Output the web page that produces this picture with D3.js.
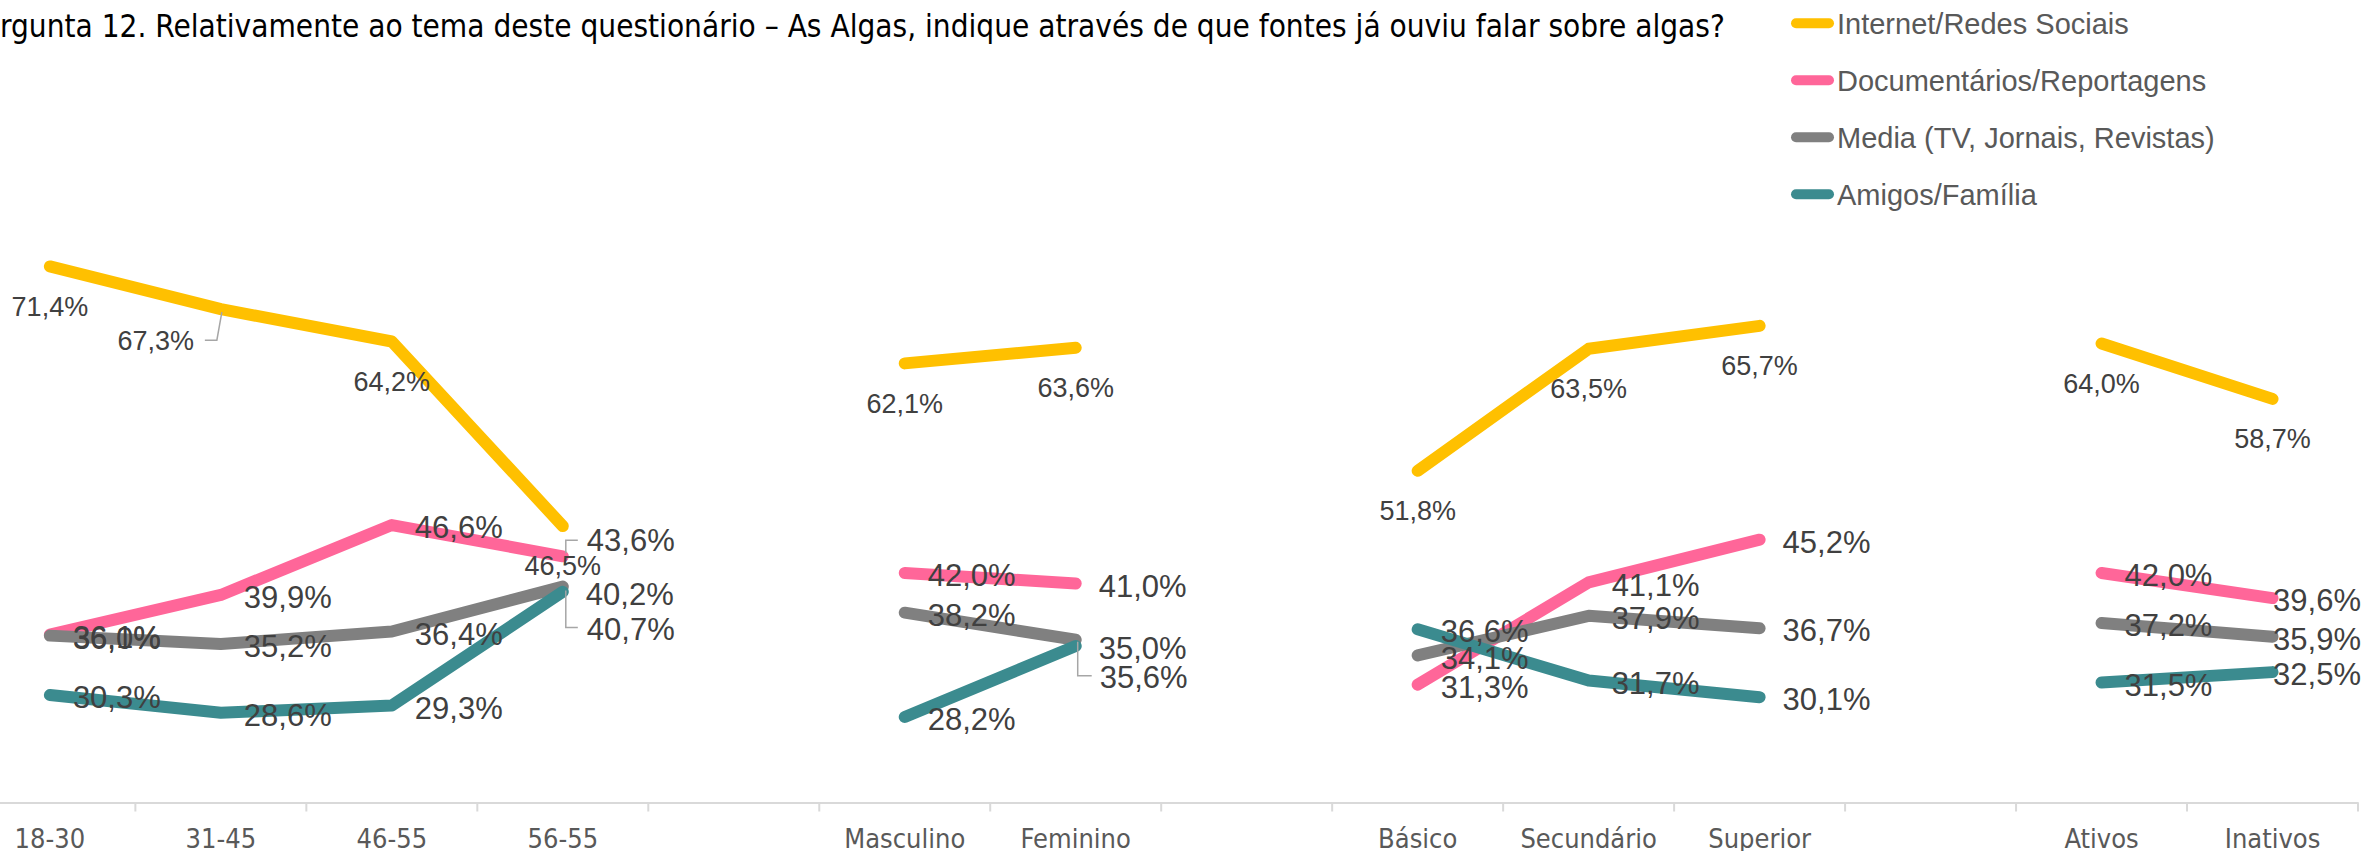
<!DOCTYPE html>
<html><head><meta charset="utf-8">
<script src="https://cdn.jsdelivr.net/npm/d3@7"></script>
<style>html,body{margin:0;padding:0;background:#fff;overflow:hidden}</style>
</head><body><svg id="c" width="2366" height="851"></svg>
<script>
// ---- data ----
const categories = ["18-30","31-45","46-55","56-55","","Masculino","Feminino","","Básico","Secundário","Superior","","Ativos","Inativos"];
const internet = [71.4,67.3,64.2,46.5,null,62.1,63.6,null,51.8,63.5,65.7,null,64.0,58.7];
const documentarios = [36.1,39.9,46.6,43.6,null,42.0,41.0,null,31.3,41.1,45.2,null,42.0,39.6];
const media = [36.0,35.2,36.4,40.7,null,38.2,35.6,null,34.1,37.9,36.7,null,37.2,35.9];
const amigos = [30.3,28.6,29.3,40.2,null,28.2,35.0,null,36.6,31.7,30.1,null,31.5,32.5];
const seriesNames = ["Internet/Redes Sociais","Documentários/Reportagens","Media (TV, Jornais, Revistas)","Amigos/Família"];
const titleText = "Pergunta 12. Relativamente ao tema deste questionário – As Algas, indique através de que fontes já ouviu falar sobre algas?";

// ---- styles / layout ----
const seriesValues = [internet, documentarios, media, amigos];
const seriesColors = ["#FFC000","#FF6699","#808080","#3B8B8F"];
const labelPlacement = ["below","right","right","right"];
const labelSizes = [27,31,31,31];
// manually moved labels: centre offset from point, leader polyline relative to point
const labelOverrides = {
  "0,1": {cx:-65, cy:31.5, leader:[[-16,31],[-4,31],[1,3]]},
  "1,3": {cx:68, cy:-16, leader:[[15,-16],[3,-16],[3,-3]]},
  "2,3": {cx:68, cy:42, leader:[[15,41],[3,41],[3,4]]},
  "2,6": {cx:68, cy:37, leader:[[16,36],[2,36],[2,2]]}
};
const W=2366, H=851;
const narrow = "'Liberation Sans Narrow','Arial Narrow','DejaVu Sans Condensed',sans-serif";
const arial = "'Liberation Sans',Arial,sans-serif";

const svg = d3.select("#c");
svg.append("rect").attr("width",W).attr("height",H).attr("fill","#fff");

const x = d3.scaleBand().domain(d3.range(categories.length)).range([-35.6,2358]).padding(0);
const y = d3.scaleLinear().domain([20,80]).range([802.5,176.7]);
const cx = i => x(i) + x.bandwidth()/2;

// title
const tmp = svg.append("text").attr("font-family",narrow).attr("font-size",28).text(titleText.slice(2));
const fs = 28*1725/tmp.node().getComputedTextLength();
tmp.remove();
const tmp2 = svg.append("text").attr("font-family",narrow).attr("font-size",fs).text("Pe");
const wPe = tmp2.node().getComputedTextLength();
tmp2.remove();
svg.append("text").attr("x",-wPe).attr("y",36.7).attr("font-family",narrow).attr("font-size",fs)
  .attr("fill","#000").text(titleText);

// axis
const axisG = svg.append("g").attr("transform",`translate(0,${y(20)})`)
  .call(d3.axisBottom(x).tickSize(0).tickPadding(26).tickFormat(i=>categories[i]));
axisG.select(".domain").attr("stroke","#D9D9D9").attr("stroke-width",2);
axisG.selectAll(".tick text").attr("font-family",narrow).attr("font-size",27).attr("fill","#595959");
axisG.selectAll("line.bound").data(d3.range(categories.length+1)).join("line")
  .attr("class","bound")
  .attr("x1",i=> i===0 ? x(0) : x(i-1)+x.bandwidth()).attr("x2",i=> i===0 ? x(0) : x(i-1)+x.bandwidth())
  .attr("y1",0).attr("y2",9).attr("stroke","#D9D9D9").attr("stroke-width",2);

// lines
const line = d3.line().defined(d=>d!=null).x((d,i)=>cx(i)).y(d=>y(d));
seriesValues.forEach((vals,s)=>{
  svg.append("path").datum(vals).attr("d",line).attr("fill","none")
    .attr("stroke",seriesColors[s]).attr("stroke-width",12)
    .attr("stroke-linecap","round").attr("stroke-linejoin","round");
});

// labels
const fmt = v => d3.format(".1f")(v).replace(".",",") + "%";
const labelG = svg.append("g");
seriesValues.forEach((vals,s)=>{
  const fsz = labelSizes[s];
  vals.forEach((v,i)=>{
    if(v==null) return;
    const px = cx(i), py = y(v);
    const ov = labelOverrides[s+","+i];
    const t = labelG.append("text").attr("font-family",arial).attr("font-size",fsz)
      .attr("fill","#404040").text(fmt(v));
    const w = t.node().getComputedTextLength();
    let lx, ly;
    if(ov){
      lx = px + ov.cx - w/2; ly = py + ov.cy;
      labelG.insert("path","text").attr("d", d3.line()(ov.leader.map(p=>[px+p[0],py+p[1]])))
        .attr("fill","none").attr("stroke","#A6A6A6").attr("stroke-width",1.5);
    } else if(labelPlacement[s]==="below"){
      lx = px - w/2; ly = py + 39.5;
    } else {
      lx = px + 23; ly = py + 2;
    }
    if(lx + w > 2361) lx = 2361 - w;
    t.attr("x",lx).attr("y",ly + 0.358*fsz);
  });
});

// legend
const leg = svg.append("g");
seriesNames.forEach((n,s)=>{
  const ly = 23.3 + 57*s;
  leg.append("line").attr("x1",1796).attr("x2",1829).attr("y1",ly).attr("y2",ly)
    .attr("stroke",seriesColors[s]).attr("stroke-width",10).attr("stroke-linecap","round");
  leg.append("text").attr("x",1837).attr("y",ly+10.3).attr("font-family",arial).attr("font-size",29)
    .attr("fill","#595959").text(n);
});
</script></body></html>
